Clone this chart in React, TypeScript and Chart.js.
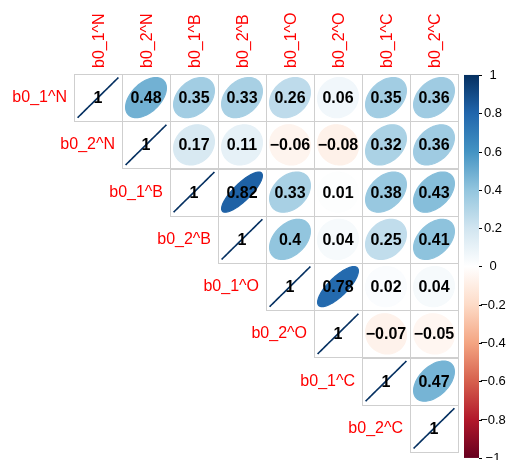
import React, { useEffect, useRef } from "react";
import { Chart, registerables } from "chart.js";
Chart.register(...registerables);

const variables = ["b0_1^N", "b0_2^N", "b0_1^B", "b0_2^B", "b0_1^O", "b0_2^O", "b0_1^C", "b0_2^C"];
// upper-triangle rows, each starting at the diagonal
const corr_b0_1N = [1, 0.48, 0.35, 0.33, 0.26, 0.06, 0.35, 0.36];
const corr_b0_2N = [1, 0.17, 0.11, -0.06, -0.08, 0.32, 0.36];
const corr_b0_1B = [1, 0.82, 0.33, 0.01, 0.38, 0.43];
const corr_b0_2B = [1, 0.4, 0.04, 0.25, 0.41];
const corr_b0_1O = [1, 0.78, 0.02, 0.04];
const corr_b0_2O = [1, -0.07, -0.05];
const corr_b0_1C = [1, 0.47];
const corr_b0_2C = [1];
const corrRows = [corr_b0_1N, corr_b0_2N, corr_b0_1B, corr_b0_2B, corr_b0_1O, corr_b0_2O, corr_b0_1C, corr_b0_2C];

const colorbarTicks = [1, 0.8, 0.6, 0.4, 0.2, 0, -0.2, -0.4, -0.6, -0.8, -1];
const rdbu = ["#67001F", "#B2182B", "#D6604D", "#F4A582", "#FDDBC7", "#FFFFFF", "#D1E5F0", "#92C5DE", "#4393C3", "#2166AC", "#053061"];

const FONT = "'Liberation Sans', Arial, Helvetica, sans-serif";

function hex(c: string) {
  return [parseInt(c.slice(1, 3), 16), parseInt(c.slice(3, 5), 16), parseInt(c.slice(5, 7), 16)];
}
function colorFor(v: number) {
  const t = ((v + 1) / 2) * (rdbu.length - 1);
  const i = Math.min(rdbu.length - 2, Math.max(0, Math.floor(t)));
  const f = t - i;
  const a = hex(rdbu[i]);
  const b = hex(rdbu[i + 1]);
  const m = a.map((x, k) => Math.round(x + (b[k] - x) * f));
  return `rgb(${m[0]},${m[1]},${m[2]})`;
}
function fmt(v: number) {
  if (v === 1) return "1";
  const s = (Math.round(Math.abs(v) * 100) / 100).toString();
  return (v < 0 ? "\u2212" : "") + s;
}

const points: { x: number; y: number; v: number }[] = [];
corrRows.forEach((row, i) => row.forEach((v, k) => points.push({ x: i + k, y: i, v })));

const corrPlugin = {
  id: "corr",
  afterDatasetsDraw(chart: any) {
    const ctx = chart.ctx;
    const xs = chart.scales.x;
    const ys = chart.scales.y;
    const cb = chart.scales.cb;
    const cw = Math.abs(xs.getPixelForValue(1) - xs.getPixelForValue(0));
    const ch = Math.abs(ys.getPixelForValue(1) - ys.getPixelForValue(0));
    ctx.save();
    // ellipses
    points.forEach((p) => {
      const cx = xs.getPixelForValue(p.x);
      const cy = ys.getPixelForValue(p.y);
      const d = Math.acos(Math.max(-1, Math.min(1, p.v)));
      const col = colorFor(p.v);
      ctx.beginPath();
      for (let s = 0; s <= 100; s++) {
        const k = (s / 100) * Math.PI * 2;
        const dx = (0.85 * Math.cos(k + d / 2)) / 2;
        const dy = (0.85 * Math.cos(k - d / 2)) / 2;
        const px = cx + dx * cw;
        const py = cy - dy * ch;
        if (s === 0) ctx.moveTo(px, py);
        else ctx.lineTo(px, py);
      }
      ctx.closePath();
      ctx.fillStyle = col;
      ctx.fill();
      ctx.strokeStyle = col;
      ctx.lineWidth = p.v === 1 ? 1.6 : 1.2;
      ctx.stroke();
    });
    // grid
    ctx.strokeStyle = "#cfcfcf";
    ctx.lineWidth = 1;
    points.forEach((p) => {
      const cx = xs.getPixelForValue(p.x);
      const cy = ys.getPixelForValue(p.y);
      ctx.strokeRect(Math.round(cx - cw / 2) + 0.5, Math.round(cy - ch / 2) + 0.5, Math.round(cw), Math.round(ch));
    });
    // numbers
    ctx.fillStyle = "#000";
    ctx.font = `bold 16px ${FONT}`;
    ctx.textAlign = "center";
    ctx.textBaseline = "middle";
    points.forEach((p) => {
      ctx.fillText(fmt(p.v), xs.getPixelForValue(p.x), ys.getPixelForValue(p.y) + 1);
    });
    // labels
    ctx.fillStyle = "#FF0000";
    ctx.font = `16px ${FONT}`;
    variables.forEach((name, i) => {
      ctx.textAlign = "right";
      ctx.textBaseline = "middle";
      ctx.fillText(name, xs.getPixelForValue(i) - cw / 2 - 7, ys.getPixelForValue(i));
      ctx.save();
      ctx.translate(xs.getPixelForValue(i) + 2, ys.getPixelForValue(0) - ch / 2 - 6);
      ctx.rotate(-Math.PI / 2);
      ctx.textAlign = "left";
      ctx.textBaseline = "middle";
      ctx.fillText(name, 0, 0);
      ctx.restore();
    });
    // colorbar
    const bx = chart.chartArea.right + 6;
    const bw = 15;
    const top = cb.getPixelForValue(1);
    const bot = cb.getPixelForValue(-1);
    const grad = ctx.createLinearGradient(0, bot, 0, top);
    rdbu.forEach((c, i) => grad.addColorStop(i / (rdbu.length - 1), c));
    ctx.fillStyle = grad;
    ctx.fillRect(bx, top, bw, bot - top);
    ctx.strokeStyle = "#000";
    ctx.lineWidth = 1;
    ctx.fillStyle = "#000";
    ctx.font = `13px ${FONT}`;
    ctx.textAlign = "center";
    ctx.textBaseline = "middle";
    colorbarTicks.forEach((t) => {
      const y = Math.round(cb.getPixelForValue(t)) + 0.5;
      ctx.beginPath();
      ctx.moveTo(bx + bw, y);
      ctx.lineTo(bx + bw + 3, y);
      ctx.stroke();
      ctx.fillText(fmt(t), bx + bw + 14, y);
    });
    ctx.restore();
  },
};

export default function App() {
  const ref = useRef<HTMLCanvasElement>(null);
  useEffect(() => {
    if (!ref.current) return;
    const chart = new Chart(ref.current, {
      type: "scatter",
      data: {
        datasets: [
          {
            data: points.map((p) => ({ x: p.x, y: p.y })),
            pointRadius: 0,
            pointHoverRadius: 0,
          },
        ],
      },
      options: {
        animation: false,
        responsive: false,
        devicePixelRatio: 1,
        layout: { padding: { left: 74, top: 74, right: 49, bottom: 8 } },
        plugins: { legend: { display: false }, tooltip: { enabled: false } },
        scales: {
          x: { type: "linear", min: -0.5, max: 7.5, display: false },
          y: { type: "linear", min: -0.5, max: 7.5, reverse: true, display: false },
          cb: { type: "linear", position: "right", min: -0.969, max: 1.005, display: false },
        },
      },
      plugins: [corrPlugin],
    });
    return () => chart.destroy();
  }, []);
  return (
    <div style={{ position: "absolute", left: 0, top: 0, width: 507, height: 460, background: "#fff" }}>
      <canvas ref={ref} width={507} height={460} />
    </div>
  );
}
